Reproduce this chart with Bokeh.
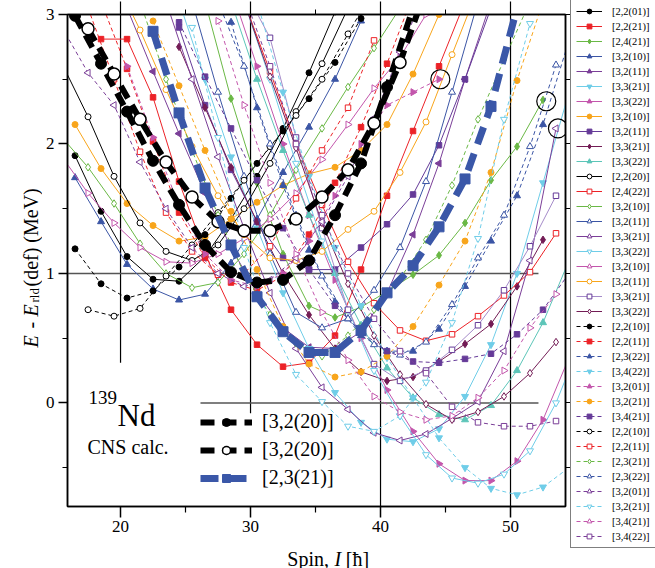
import math
from bokeh.plotting import figure
from bokeh.layouts import row, column
from bokeh.models import Range1d, FixedTicker, LinearAxis, Legend, LegendItem, Label
from bokeh.embed import file_html
from bokeh.resources import INLINE

SERIF = "Liberation Serif"

# ---------------- data (spin I, energy E in MeV) ----------------
# solid lines, filled markers
I01 = [16.5, 18.5, 20.5, 22.5, 24.5, 26.5, 28.5, 30.5, 32.5, 34.5, 36.5]
E01 = [1.91, 1.48, 1.13, 0.955, 0.94, 1.13, 1.42, 1.75, 2.12, 2.55, 3.02]
I02 = [18.5, 20.5, 22.5, 24.5, 26.5, 28.5, 30.5, 32.5, 34.5, 36.5, 38.5, 40.5, 42.5, 44.5, 46.5]
E02 = [2.81, 2.81, 2.36, 1.71, 1.15, 0.72, 0.45, 0.28, 0.31, 0.52, 1.03, 1.6, 2.1, 2.6, 3.1]
I03 = [26.5, 28.5, 30.5, 32.5, 34.5, 36.5, 38.5, 40.5, 42.5, 44.5, 46.5, 48.5, 50.5, 52.5]
E03 = [3.1, 2.35, 1.7, 1.15, 0.75, 0.66, 0.74, 0.86, 0.99, 1.14, 1.39, 1.72, 1.98, 2.34]
I04 = [16.5, 18.5, 20.5, 22.5, 24.5, 26.5, 28.5, 30.5, 32.5, 34.5, 36.5, 38.5]
E04 = [1.74, 1.40, 1.07, 0.88, 0.795, 0.84, 1.08, 1.42, 1.78, 2.13, 2.5, 2.95]
I05 = [20.5, 22.5, 24.5, 26.5, 28.5, 30.5, 32.5, 34.5, 36.5, 38.5, 40.5, 42.5, 44.5, 46.5, 48.5]
E05 = [3.05, 2.56, 2.08, 1.62, 1.2, 0.85, 0.58, 0.43, 0.42, 0.55, 0.85, 1.3, 1.85, 2.5, 3.1]
I06 = [24.5, 26.5, 28.5, 30.5, 32.5, 34.5, 36.5, 38.5, 40.5, 42.5, 44.5, 46.5, 48.5, 50.5, 52.5, 54.5]
E06 = [3.1, 2.5, 1.9, 1.35, 0.85, 0.42, 0.08, -0.15, -0.28, -0.3, -0.2, 0.05, 0.45, 1.0, 1.7, 2.4]
I07 = [28.5, 30.5, 32.5, 34.5, 36.5, 38.5, 40.5, 42.5, 44.5, 46.5, 48.5, 50.5, 52.5, 54.5]
E07 = [3.2, 2.6, 2.0, 1.45, 0.95, 0.5, 0.1, -0.22, -0.47, -0.6, -0.6, -0.45, -0.13, 0.35]
I08 = [16.5, 18.5, 20.5, 22.5, 24.5, 26.5, 28.5, 30.5, 32.5, 34.5, 36.5, 38.5, 40.5, 42.5, 44.5]
E08 = [2.15, 1.81, 1.54, 1.37, 1.25, 1.28, 1.42, 1.55, 1.68, 1.77, 1.82, 1.95, 2.15, 2.54, 3.0]
I09 = [24.5, 26.5, 28.5, 30.5, 32.5, 34.5, 36.5, 38.5, 40.5, 42.5, 44.5, 46.5, 48.5]
E09 = [2.9, 2.3, 1.8, 1.4, 1.12, 1.03, 1.03, 1.2, 1.38, 1.61, 1.99, 2.5, 3.05]
I10 = [24.5, 26.5, 28.5, 30.5, 32.5, 34.5, 36.5, 38.5, 40.5, 42.5, 44.5, 46.5, 48.5, 50.5, 52.5]
E10 = [2.75, 2.28, 1.82, 1.4, 1.0, 0.68, 0.42, 0.24, 0.17, 0.2, 0.32, 0.455, 0.61, 0.9, 1.26]
I11 = [28.5, 30.5, 32.5, 34.5, 36.5, 38.5, 40.5, 42.5, 44.5, 46.5, 48.5, 50.5, 52.5, 54.5]
E11 = [3.1, 2.5, 1.95, 1.45, 1.0, 0.6, 0.27, 0.04, -0.09, -0.13, -0.02, 0.25, 0.62, 1.1]
# solid lines, open markers
I12 = [15.5, 17.5, 19.5, 21.5, 23.5, 25.5, 27.5, 29.5, 31.5, 33.5, 35.5, 37.5]
E12 = [2.62, 2.21, 1.75, 1.39, 1.17, 1.1, 1.22, 1.5, 1.85, 2.25, 2.62, 3.05]
I13 = [29.5, 31.5, 33.5, 35.5, 37.5, 39.5, 41.5, 43.5, 45.5, 47.5, 49.5, 51.5, 53.5]
E13 = [3.1, 2.56, 2.0, 1.53, 1.09, 0.77, 0.56, 0.48, 0.53, 0.67, 0.83, 1.01, 1.31]
I14 = [15.5, 17.5, 19.5, 21.5, 23.5, 25.5, 27.5, 29.5, 31.5, 33.5, 35.5, 37.5, 39.5, 41.5]
E14 = [2.05, 1.82, 1.54, 1.23, 1.0, 0.89, 0.93, 1.15, 1.45, 1.8, 2.12, 2.44, 2.74, 3.05]
I15 = [25.5, 27.5, 29.5, 31.5, 33.5, 35.5, 37.5, 39.5, 41.5, 43.5, 45.5, 47.5]
E15 = [3.1, 2.4, 1.75, 1.15, 0.7, 0.58, 0.65, 0.87, 1.2, 1.71, 2.4, 3.1]
I16 = [23.5, 25.5, 27.5, 29.5, 31.5, 33.5, 35.5, 37.5, 39.5, 41.5, 43.5, 45.5, 47.5, 49.5, 51.5, 53.5]
E16 = [3.1, 2.5, 1.9, 1.35, 0.85, 0.42, 0.12, -0.05, -0.23, -0.29, -0.24, -0.12, 0.01, 0.4, 1.1, 2.12]
I17 = [29.5, 31.5, 33.5, 35.5, 37.5, 39.5, 41.5, 43.5, 45.5, 47.5, 49.5, 51.5, 53.5, 55.5]
E17 = [3.1, 2.5, 1.85, 1.25, 0.72, 0.25, -0.1, -0.4, -0.58, -0.62, -0.55, -0.37, 0.0, 0.5]
I18 = [15.5, 17.5, 19.5, 21.5, 23.5, 25.5, 27.5, 29.5, 31.5, 33.5, 35.5, 37.5, 39.5, 41.5, 43.5]
E18 = [1.9, 1.62, 1.39, 1.2, 1.09, 1.08, 1.15, 1.27, 1.42, 1.62, 1.88, 2.15, 2.43, 2.67, 3.0]
I19 = [19.5, 21.5, 23.5, 25.5, 27.5, 29.5, 31.5, 33.5, 35.5, 37.5, 39.5, 41.5, 43.5, 45.5, 47.5]
E19 = [3.3, 2.88, 2.42, 1.98, 1.6, 1.3, 1.12, 1.1, 1.17, 1.34, 1.48, 1.78, 2.17, 2.69, 3.2]
I20 = [29.5, 31.5, 33.5, 35.5, 37.5, 39.5, 41.5, 43.5, 45.5, 47.5, 49.5, 51.5, 53.5]
E20 = [3.2, 2.82, 2.05, 1.35, 0.72, 0.3, 0.17, 0.25, 0.41, 0.6, 0.87, 1.21, 1.6]
I21 = [29.5, 31.5, 33.5, 35.5, 37.5, 39.5, 41.5, 43.5, 45.5, 47.5, 49.5, 51.5, 53.5]
E21 = [3.1, 2.52, 1.97, 1.39, 0.92, 0.52, 0.22, -0.01, -0.13, -0.07, 0.05, 0.23, 0.47]
# dashed lines, filled markers
I22 = [16.5, 18.5, 20.5, 22.5, 24.5, 26.5, 28.5, 30.5, 32.5, 34.5, 36.5, 38.5]
E22 = [1.19, 0.92, 0.81, 0.865, 1.05, 1.3, 1.58, 1.85, 2.1, 2.35, 2.63, 2.97]
I23 = [18.5, 20.5, 22.5, 24.5, 26.5, 28.5, 30.5, 32.5, 34.5, 36.5, 38.5, 40.5, 42.5]
E23 = [3.1, 2.58, 2.02, 1.47, 1.12, 0.93, 0.87, 0.98, 1.3, 1.7, 2.13, 2.62, 3.15]
I24 = [28.5, 30.5, 32.5, 34.5, 36.5, 38.5, 40.5, 42.5, 44.5, 46.5, 48.5, 50.5, 52.5, 54.5]
E24 = [2.94, 2.28, 1.68, 1.18, 0.78, 0.52, 0.4, 0.4, 0.57, 0.9, 1.25, 1.6, 2.15, 2.8]
I25 = [30.5, 32.5, 34.5, 36.5, 38.5, 40.5, 42.5, 44.5, 46.5, 48.5, 50.5, 52.5, 54.5]
E25 = [3.1, 2.4, 1.75, 1.2, 0.75, 0.35, 0.04, -0.27, -0.5, -0.66, -0.71, -0.65, -0.5]
I26 = [20.5, 22.5, 24.5, 26.5, 28.5, 30.5, 32.5, 34.5, 36.5, 38.5, 40.5, 42.5, 44.5]
E26 = [2.6, 2.05, 1.52, 1.15, 0.95, 0.9, 1.0, 1.25, 1.6, 2.0, 2.3, 2.4, 2.5]
I27 = [22.5, 24.5, 26.5, 28.5, 30.5, 32.5, 34.5, 36.5, 38.5, 40.5, 42.5, 44.5, 46.5, 48.5, 50.5, 52.5]
E27 = [2.95, 2.45, 1.95, 1.48, 1.03, 0.59, 0.3, 0.2, 0.24, 0.36, 0.59, 0.91, 1.25, 1.78, 2.49, 3.1]
I28 = [24.5, 26.5, 28.5, 30.5, 32.5, 34.5, 36.5, 38.5, 40.5, 42.5, 44.5, 46.5, 48.5, 50.5, 52.5, 54.5]
E28 = [2.94, 2.52, 2.12, 1.72, 1.35, 1.03, 0.75, 0.55, 0.4, 0.32, 0.31, 0.34, 0.38, 0.53, 0.72, 1.0]
# dashed lines, open markers
I29 = [17.5, 19.5, 21.5, 23.5, 25.5, 27.5, 29.5, 31.5, 33.5, 35.5, 37.5, 39.5]
E29 = [0.72, 0.67, 0.73, 0.98, 1.22, 1.47, 1.72, 1.98, 2.22, 2.5, 2.85, 3.2]
I30 = [17.5, 19.5, 21.5, 23.5, 25.5, 27.5, 29.5, 31.5, 33.5, 35.5, 37.5, 39.5]
E30 = [3.05, 2.5, 1.94, 1.47, 1.17, 0.99, 1.0, 1.21, 1.58, 1.95, 2.28, 2.8]
I31 = [21.5, 23.5, 25.5, 27.5, 29.5, 31.5, 33.5, 35.5, 37.5, 39.5, 41.5, 43.5, 45.5, 47.5, 49.5, 51.5]
E31 = [3.1, 2.5, 1.95, 1.45, 1.0, 0.68, 0.46, 0.36, 0.52, 0.72, 0.96, 1.26, 1.68, 2.19, 2.65, 3.1]
I32 = [27.5, 29.5, 31.5, 33.5, 35.5, 37.5, 39.5, 41.5, 43.5, 45.5, 47.5, 49.5, 51.5, 53.5]
E32 = [3.1, 2.6, 2.0, 1.45, 0.98, 0.65, 0.45, 0.37, 0.47, 0.76, 1.12, 1.45, 1.98, 2.61]
I33 = [15.5, 17.5, 19.5, 21.5, 23.5, 25.5, 27.5, 29.5, 31.5, 33.5, 35.5, 37.5, 39.5, 41.5, 43.5]
E33 = [2.9, 2.55, 2.3, 1.86, 1.5, 1.2, 1.0, 0.9, 0.95, 1.12, 1.4, 1.75, 2.2, 2.71, 3.2]
I34 = [25.5, 27.5, 29.5, 31.5, 33.5, 35.5, 37.5, 39.5, 41.5, 43.5, 45.5, 47.5, 49.5, 51.5]
E34 = [2.9, 2.05, 1.2, 0.62, 0.22, 0.01, -0.18, -0.22, -0.1, 0.16, 0.62, 1.27, 2.19, 2.93]
I35 = [27.5, 29.5, 31.5, 33.5, 35.5, 37.5, 39.5, 41.5, 43.5, 45.5, 47.5, 49.5, 51.5, 53.5]
E35 = [2.95, 2.3, 1.7, 1.15, 0.7, 0.33, 0.05, -0.07, -0.13, -0.1, 0.04, 0.25, 0.58, 0.84]
I36 = [29.5, 31.5, 33.5, 35.5, 37.5, 39.5, 41.5, 43.5, 45.5, 47.5, 49.5, 51.5, 53.5]
E36 = [3.15, 2.6, 2.0, 1.45, 1.0, 0.65, 0.4, 0.23, -0.03, -0.15, -0.18, -0.18, -0.14]
# highlighted bands
IT1 = [16.5, 18.5, 20.5, 22.5, 24.5, 26.5, 28.5, 30.5, 32.5, 34.5, 36.5, 38.5, 40.5, 42.5]
ET1 = [2.99, 2.62, 2.25, 1.87, 1.53, 1.22, 1.01, 0.93, 0.95, 1.10, 1.45, 1.85, 2.44, 3.05]
IT2 = [17.5, 19.5, 21.5, 23.5, 25.5, 27.5, 29.5, 31.5, 33.5, 35.5, 37.5, 39.5, 41.5, 43.5]
ET2 = [2.89, 2.54, 2.19, 1.86, 1.59, 1.40, 1.33, 1.33, 1.42, 1.59, 1.80, 2.16, 2.63, 3.2]
IT3 = [22.5, 24.5, 26.5, 28.5, 30.5, 32.5, 34.5, 36.5, 38.5, 40.5, 42.5, 44.5, 46.5, 48.5, 50.5]
ET3 = [2.87, 2.24, 1.66, 1.22, 0.82, 0.55, 0.39, 0.39, 0.56, 0.85, 1.06, 1.36, 1.73, 2.29, 3.05]
# circled states
CIRC_I = [44.6, 52.75, 53.65]
CIRC_E = [2.5, 2.33, 2.12]
# reference lines
VL_X = [20, 30, 40, 50]
VL_TOP = [3.0, 3.0, 3.0, 3.0]
VL_BOT = [0.31, -0.08, -0.8, -0.8]
HL_Y = [1, 0]
HL_X0 = [15.92, 26.15]
HL_X1 = [52.15, 52.15]

BLACK = "#000000"; RED = "#ec2227"; GREEN = "#6ab845"; BLUE = "#3b55a5"
PURPLE = "#7b3f98"; CYAN = "#6fcde8"; PINK = "#c356ac"; ORANGE = "#f8a51b"
PURPLE2 = "#653a98"; MAROON = "#731c55"; TEAL = "#5cc5b8"; LAV = "#a58bc9"

L = math.pi / 2
R = -math.pi / 2
# label, I, E, line colour, marker colour, marker, angle, filled, dash
SERIES = [
    ("[2,2(01)]", I01, E01, BLACK, BLACK, "circle", 0, True, "solid"),
    ("[2,2(21)]", I02, E02, RED, RED, "square", 0, True, "solid"),
    ("[2,4(21)]", I03, E03, GREEN, GREEN, "diamond", 0, True, "solid"),
    ("[3,2(10)]", I04, E04, BLUE, BLUE, "triangle", 0, True, "solid"),
    ("[3,2(11)]", I05, E05, PURPLE, PURPLE, "triangle", L, True, "solid"),
    ("[3,3(21)]", I06, E06, CYAN, CYAN, "inverted_triangle", 0, True, "solid"),
    ("[3,3(22)]", I07, E07, PINK, PINK, "triangle", R, True, "solid"),
    ("[3,2(10)]", I08, E08, ORANGE, ORANGE, "circle", 0, True, "solid"),
    ("[3,2(11)]", I09, E09, PURPLE2, PURPLE2, "square", 0, True, "solid"),
    ("[3,3(21)]", I10, E10, MAROON, MAROON, "diamond", 0, True, "solid"),
    ("[3,3(22)]", I11, E11, TEAL, TEAL, "triangle", 0, True, "solid"),
    ("[2,2(20)]", I12, E12, BLACK, BLACK, "circle", 0, False, "solid"),
    ("[2,4(22)]", I13, E13, RED, RED, "square", 0, False, "solid"),
    ("[3,2(10)]", I14, E14, GREEN, GREEN, "diamond", 0, False, "solid"),
    ("[3,2(11)]", I15, E15, BLUE, BLUE, "triangle", 0, False, "solid"),
    ("[3,3(21)]", I16, E16, PURPLE, PURPLE, "triangle", L, False, "solid"),
    ("[3,3(22)]", I17, E17, CYAN, CYAN, "inverted_triangle", 0, False, "solid"),
    ("[3,2(10)]", I18, E18, PINK, PINK, "triangle", R, False, "solid"),
    ("[3,2(11)]", I19, E19, ORANGE, ORANGE, "circle", 0, False, "solid"),
    ("[3,3(21)]", I20, E20, LAV, PURPLE2, "square", 0, False, "solid"),
    ("[3,3(22)]", I21, E21, MAROON, MAROON, "diamond", 0, False, "solid"),
    ("[2,2(10)]", I22, E22, BLACK, BLACK, "circle", 0, True, "4 3"),
    ("[2,2(11)]", I23, E23, RED, RED, "square", 0, True, "4 3"),
    ("[2,3(22)]", I24, E24, BLUE, BLUE, "triangle", 0, True, "4 3"),
    ("[3,4(22)]", I25, E25, CYAN, CYAN, "inverted_triangle", 0, True, "4 3"),
    ("[3,2(01)]", I26, E26, PINK, PINK, "triangle", R, True, "4 3"),
    ("[3,2(21)]", I27, E27, ORANGE, ORANGE, "circle", 0, True, "4 3"),
    ("[3,4(21)]", I28, E28, PURPLE2, PURPLE2, "square", 0, True, "4 3"),
    ("[2,2(10)]", I29, E29, BLACK, BLACK, "circle", 0, False, "4 3"),
    ("[2,2(11)]", I30, E30, RED, RED, "square", 0, False, "4 3"),
    ("[2,3(21)]", I31, E31, GREEN, GREEN, "diamond", 0, False, "4 3"),
    ("[2,3(22)]", I32, E32, BLUE, BLUE, "triangle", 0, False, "4 3"),
    ("[3,2(01)]", I33, E33, PURPLE, PURPLE, "triangle", L, False, "4 3"),
    ("[3,2(21)]", I34, E34, CYAN, CYAN, "inverted_triangle", 0, False, "4 3"),
    ("[3,4(21)]", I35, E35, PINK, PINK, "triangle", R, False, "4 3"),
    ("[3,4(22)]", I36, E36, PURPLE, PURPLE, "square", 0, False, "4 3"),
]
MSIZE = {"circle": 6, "square": 5.5, "diamond": 7.5, "triangle": 7, "inverted_triangle": 7}

YW = 42            # width of the y-title strip
MW = 528           # width of the main figure


def bare(w, h, xr, yr):
    f = figure(width=w, height=h, x_range=Range1d(*xr), y_range=Range1d(*yr),
               output_backend="svg", toolbar_location=None,
               x_axis_location=None, y_axis_location=None,
               min_border_left=0, min_border_right=0, min_border_top=0, min_border_bottom=0)
    f.xgrid.visible = False
    f.ygrid.visible = False
    f.outline_line_color = None
    f.background_fill_color = "white"
    f.border_fill_color = "white"
    return f


def lab(f, x, y, t, size, style="normal", angle=0.0):
    f.add_layout(Label(x=x, y=y, text=t, text_font=SERIF, text_font_size=size,
                       text_font_style=style, angle=angle, text_color="black",
                       text_baseline="alphabetic", text_align="left"))


# ---------------- main plot ----------------
p = figure(width=MW, height=540, x_range=Range1d(15.92, 54.23), y_range=Range1d(-0.8, 3.0),
           output_backend="svg", toolbar_location=None,
           min_border_left=25, min_border_right=5, min_border_top=14, min_border_bottom=34)
p.xgrid.visible = False
p.ygrid.visible = False
p.outline_line_color = "black"
p.outline_line_width = 1.5
p.background_fill_color = "white"
p.border_fill_color = "white"

for ax in (p.xaxis[0], p.yaxis[0]):
    ax.major_label_text_font = SERIF
    ax.major_label_text_font_size = "17px"
    ax.major_label_text_color = "black"
    ax.axis_line_width = 1.5
    ax.major_tick_in = 0
    ax.minor_tick_in = 0
    ax.major_tick_line_width = 1.5
    ax.minor_tick_line_width = 1.2
p.xaxis[0].ticker = FixedTicker(ticks=[20, 30, 40, 50], minor_ticks=[25, 35, 45])
p.yaxis[0].ticker = FixedTicker(ticks=[0, 1, 2, 3], minor_ticks=[-0.5, 0.5, 1.5, 2.5])
p.xaxis[0].major_tick_out = 11
p.xaxis[0].minor_tick_out = 6
p.xaxis[0].major_label_standoff = 3
p.yaxis[0].major_tick_out = 9
p.yaxis[0].minor_tick_out = 5
p.yaxis[0].major_label_standoff = 4

top = LinearAxis(ticker=FixedTicker(ticks=[20, 30, 40, 50], minor_ticks=[25, 35, 45]),
                 major_tick_out=13, major_tick_in=0, minor_tick_out=5, minor_tick_in=0,
                 major_label_text_font_size="1px", major_label_text_color=None,
                 major_label_standoff=0, axis_line_width=1.5, major_tick_line_width=1.2)
right = LinearAxis(ticker=FixedTicker(ticks=[0, 1, 2, 3], minor_ticks=[-0.5, 0.5, 1.5, 2.5]),
                   major_tick_out=5, major_tick_in=0, minor_tick_out=5, minor_tick_in=0,
                   major_label_text_font_size="1px", major_label_text_color=None,
                   major_label_standoff=0, axis_line_width=1.5)
p.add_layout(top, "above")
p.add_layout(right, "right")

# reference lines
p.segment(x0=VL_X, y0=VL_TOP, x1=VL_X, y1=VL_BOT, line_color="black", line_width=1.2)
p.segment(x0=HL_X0, y0=HL_Y, x1=HL_X1, y1=HL_Y, line_color="#555555", line_width=1.5)

for (lb, I, E, lc, mc, mk, ang, filled, dash) in SERIES:
    p.line(I, E, line_color=lc, line_width=1.0, line_dash=dash)
    p.scatter(I, E, marker=mk, angle=ang, size=MSIZE[mk], line_color=mc, line_width=1.0,
              fill_color=mc if filled else "white")

# highlighted bands
t1l = p.line(IT1, ET1, line_color="black", line_width=6, line_dash="14 8")
t1s = p.scatter(IT1, ET1, marker="circle", size=11, fill_color="black", line_color="black")
t2l = p.line(IT2, ET2, line_color="black", line_width=6, line_dash="14 8")
t2s = p.scatter(IT2, ET2, marker="circle", size=12, fill_color="white", line_color="black", line_width=1.5)
t3l = p.line(IT3, ET3, line_color="#3a57a8", line_width=7, line_dash="18 10")
t3s = p.scatter(IT3, ET3, marker="square", size=10, fill_color="#3a57a8", line_color="#3a57a8")

p.scatter(CIRC_I, CIRC_E, marker="circle", size=19, fill_color=None, line_color="black", line_width=1.2)

leg2 = Legend(items=[LegendItem(label="[3,2(20)]", renderers=[t1l, t1s]),
                     LegendItem(label="[3,2(20)]", renderers=[t2l, t2s]),
                     LegendItem(label="[2,3(21)]", renderers=[t3l, t3s])],
              location=(133, 17), padding=0, spacing=5, margin=0,
              glyph_width=52, glyph_height=20, label_height=20, label_standoff=10,
              label_text_font=SERIF, label_text_font_size="20px", label_text_color="black",
              border_line_alpha=0, background_fill_alpha=0)
p.add_layout(leg2)

lab(p, 17.54, 0.04, "139", "19px")
lab(p, 19.77, -0.10, "Nd", "31px")
lab(p, 17.46, -0.34, "CNS calc.", "20px")

# ---------------- y-axis title (left strip) ----------------
yfig = bare(YW, 568, (0, YW), (0, 568))
lab(yfig, 30, 221, "E", "20px", "italic", L)
lab(yfig, 30, 240, "-", "20px", "normal", L)
lab(yfig, 30, 252, "E", "20px", "italic", L)
lab(yfig, 34, 266, "rld", "13px", "normal", L)
lab(yfig, 30, 282, "(def) (MeV)", "20px", "normal", L)

# ---------------- x-axis title (bottom strip) ----------------
xfig = bare(MW, 28, (0, MW), (0, 28))
lab(xfig, 275 - YW, 10, "Spin,", "20px")
lab(xfig, 325 - YW, 10, "I", "20px", "italic")
lab(xfig, 337 - YW, 10, "[ħ]", "20px")

# ---------------- legend strip ----------------
lfig = bare(655 - YW - MW, 568, (1000, 1085), (1000, 1568))
items = []
for (lb, I, E, lc, mc, mk, ang, filled, dash) in SERIES:
    lr = lfig.line(I, E, line_color=lc, line_width=1.0, line_dash=dash)
    sr = lfig.scatter(I, E, marker=mk, angle=ang, size=MSIZE[mk], line_color=mc, line_width=1.0,
                      fill_color=mc if filled else "white")
    items.append(LegendItem(label=lb, renderers=[lr, sr]))
leg = Legend(items=items, location=(0, 20), padding=5, spacing=3, margin=0,
             glyph_width=26, glyph_height=12, label_height=12, label_standoff=10,
             label_text_font=SERIF, label_text_font_size="10.5px", label_text_color="black",
             border_line_color="black", border_line_width=1,
             background_fill_color="white", background_fill_alpha=1.0)
lfig.add_layout(leg)

layout = row(yfig, column(p, xfig, spacing=0), lfig, spacing=0)
open("out.html", "w").write(file_html(layout, INLINE))
